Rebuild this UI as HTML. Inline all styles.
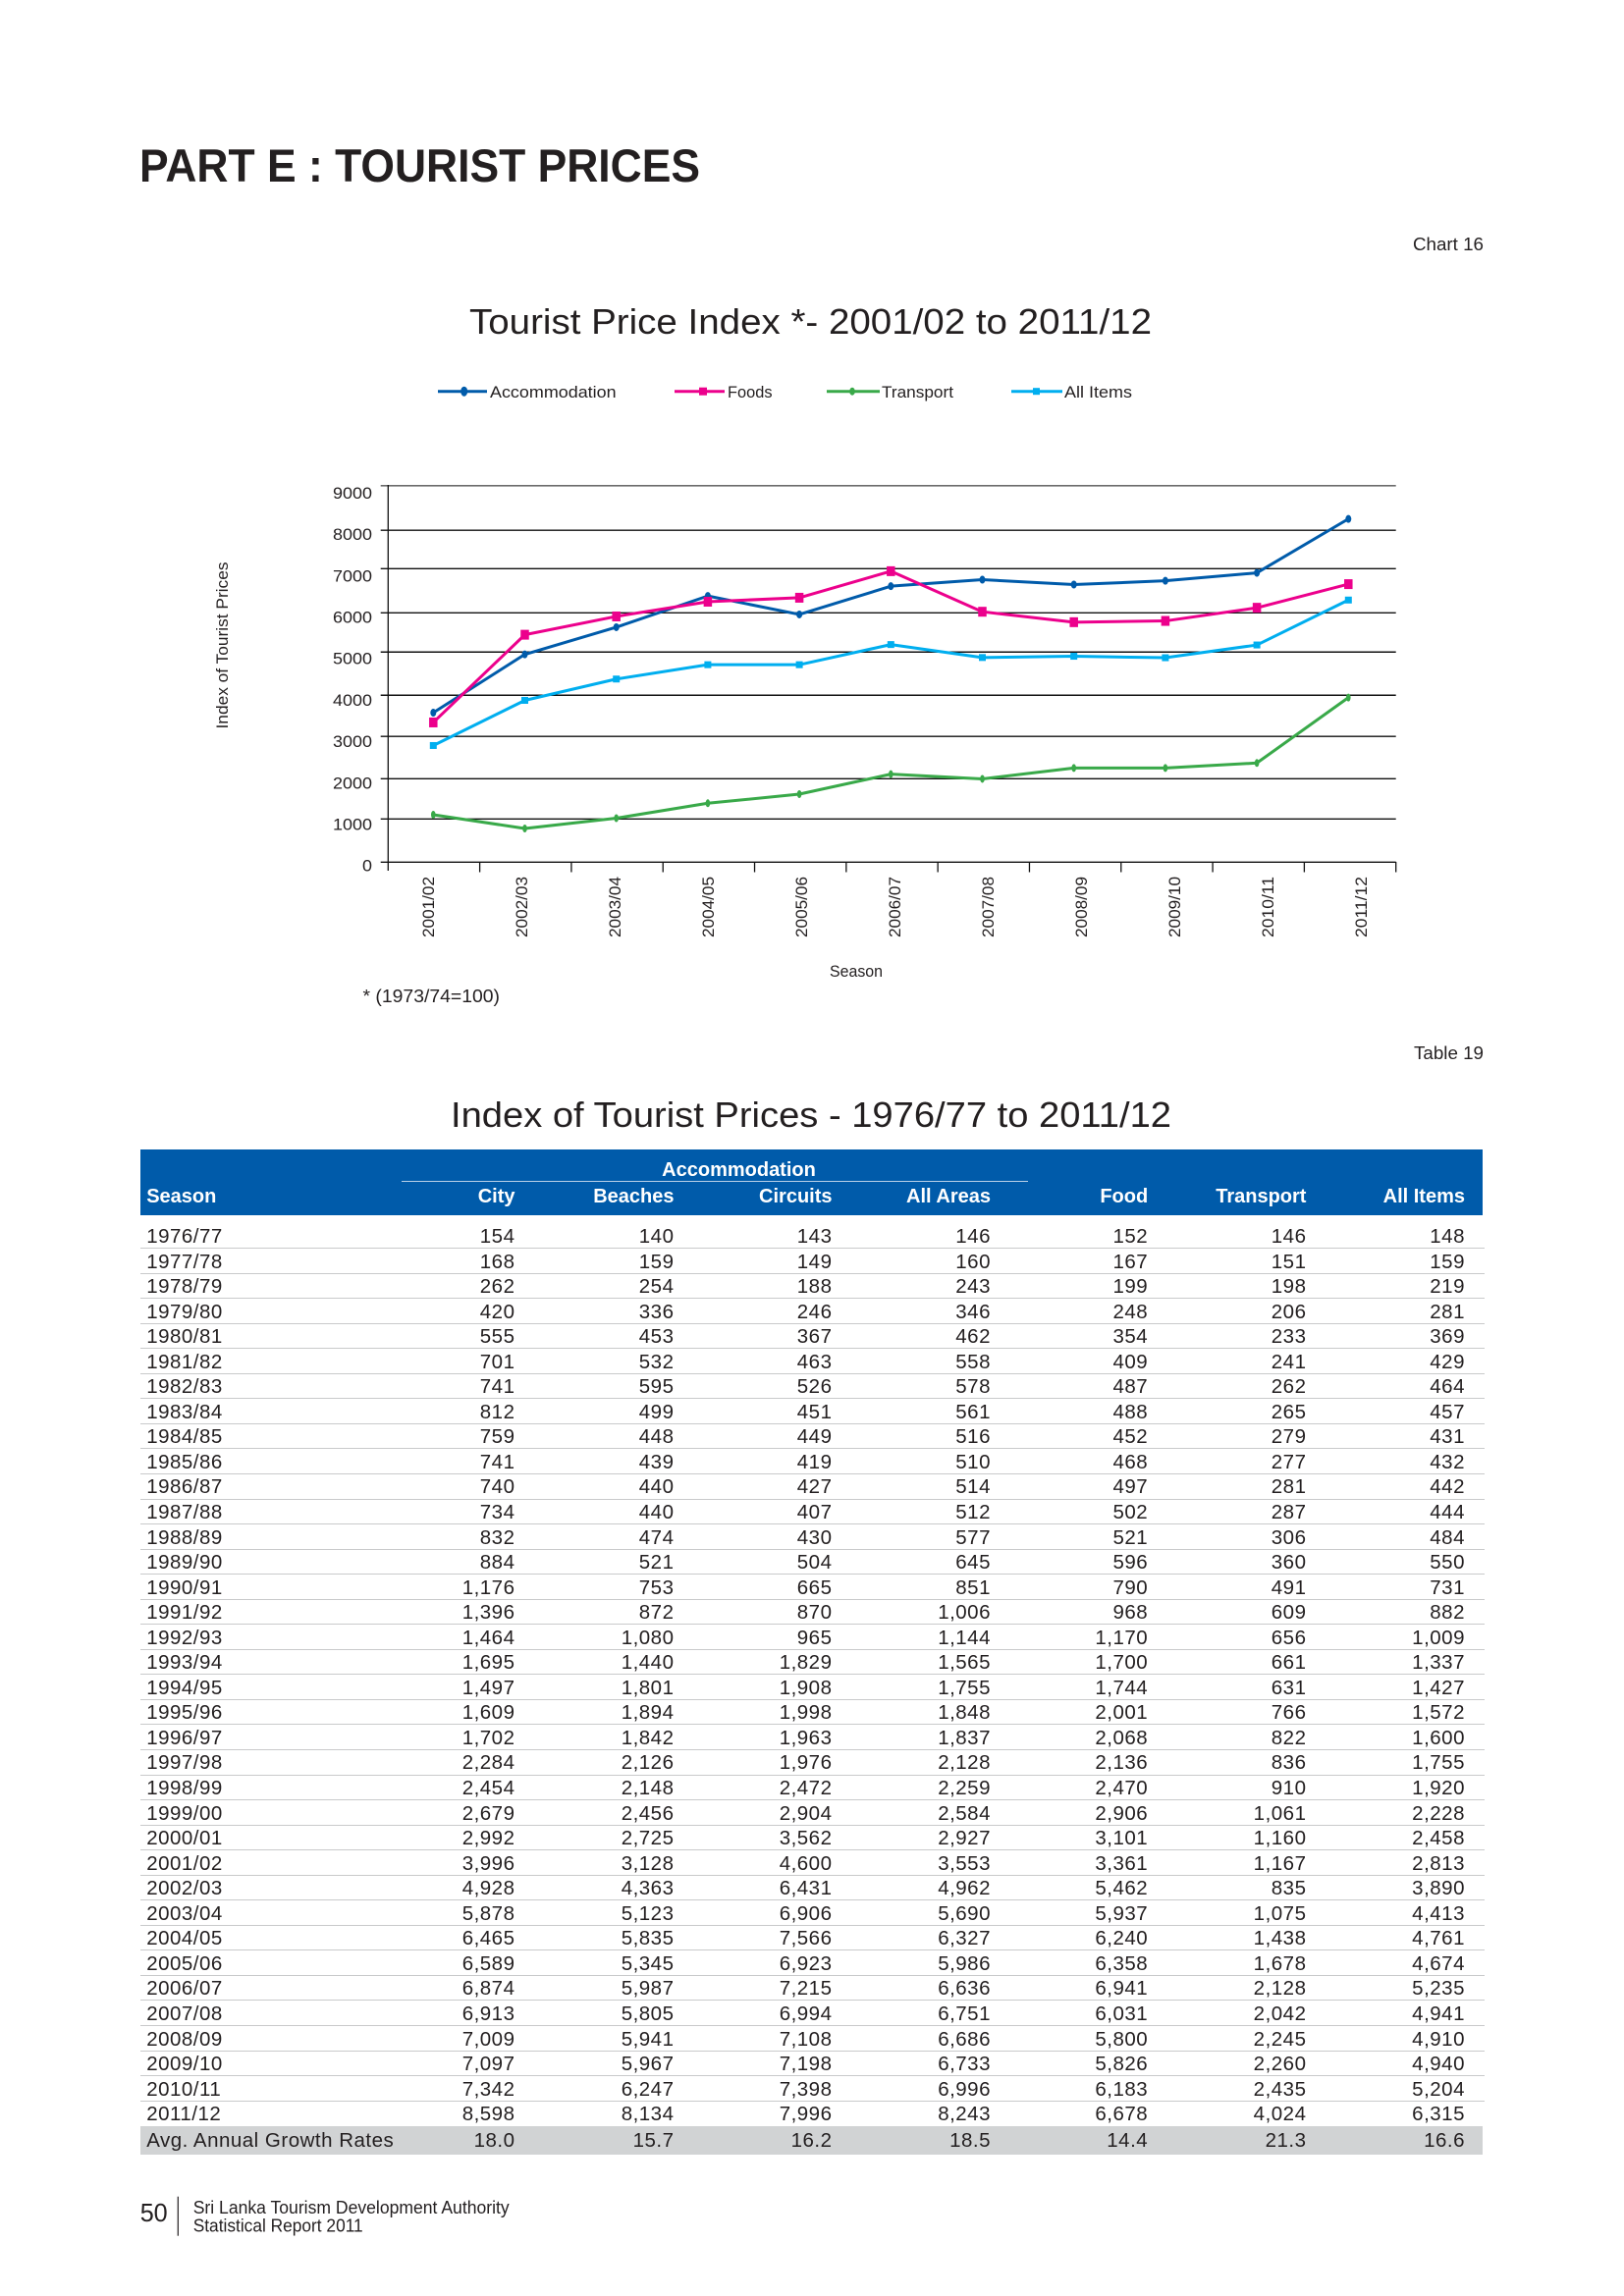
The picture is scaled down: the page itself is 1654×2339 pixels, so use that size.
<!DOCTYPE html>
<html lang="en">
<head>
<meta charset="utf-8">
<title>Part E: Tourist Prices</title>
<style>
html,body{margin:0;padding:0;background:#fff}
#page{position:relative;width:1654px;height:2339px;overflow:hidden;background:#fff;color:#231f20;font-family:"Liberation Sans",sans-serif}
#page-svg{position:absolute;left:0;top:0}
#page-svg text{font-family:"Liberation Sans",sans-serif;fill:#231f20}
#table-header{position:absolute;left:143px;top:1171px;width:1367px;height:67px;background:#005baa}
#acc-group{position:absolute;left:673px;top:1180px;width:159px;height:24px;line-height:24px;color:#fff;font-weight:bold;font-size:20px;white-space:nowrap;text-align:center}
#acc-rule{position:absolute;left:409px;top:1203px;width:638px;height:1px;background:#b9d0e8}
.r{position:absolute;left:143px;width:1369px;display:grid;grid-template-columns:257px 124.5px 162px 161px 161.5px 160.2px 161.3px 161.5px 20px;box-sizing:border-box;white-space:nowrap}
.r span{text-align:right}
.r span:first-child{text-align:left;padding-left:6.2px}
#head-row{top:1207px;height:24px;line-height:24px;color:#fff;font-weight:bold;font-size:20px;width:1367px}
#rows{position:absolute;left:0;top:1246.5px;width:1654px}
#rows .r{position:relative;height:25.55px;line-height:24px;padding-top:1.5px;border-bottom:1.5px solid #c9cacb;font-size:20.5px;letter-spacing:.5px}
#rows .r:last-child{border-bottom:0}
#avg-row{position:absolute;top:2166px;height:29px;width:1367px;line-height:29px;background:#d1d3d4;font-size:20.5px;letter-spacing:.5px}
</style>
</head>
<body>
<div id="page">
<svg id="page-svg" width="1654" height="1160" viewBox="0 0 1654 1160">
  <text x="142" y="185" font-size="47" font-weight="bold" style="font-weight:bold" textLength="571" lengthAdjust="spacingAndGlyphs">PART E : TOURIST PRICES</text>
  <text x="1439" y="255" font-size="18" textLength="72" lengthAdjust="spacingAndGlyphs">Chart 16</text>
  <text x="478" y="340" font-size="36" textLength="695" lengthAdjust="spacingAndGlyphs">Tourist Price Index *- 2001/02 to 2011/12</text>

  <g>
    <g>
      <line x1="446" y1="398.7" x2="496" y2="398.7" stroke="#005baa" stroke-width="3"/>
      <ellipse cx="472.7" cy="398.7" rx="3.5" ry="5" fill="#005baa"/>
      <text x="499" y="405" font-size="17" textLength="128.6" lengthAdjust="spacingAndGlyphs">Accommodation</text>
    </g>
    <g>
      <line x1="687" y1="398.7" x2="738" y2="398.7" stroke="#ec008c" stroke-width="3"/>
      <rect x="712" y="394.7" width="8" height="8" fill="#ec008c"/>
      <text x="741" y="405" font-size="17" textLength="45.5" lengthAdjust="spacingAndGlyphs">Foods</text>
    </g>
    <g>
      <line x1="842" y1="398.7" x2="896" y2="398.7" stroke="#39a949" stroke-width="3"/>
      <ellipse cx="868" cy="398.7" rx="2.8" ry="4" fill="#39a949"/>
      <text x="898" y="405" font-size="17" textLength="73" lengthAdjust="spacingAndGlyphs">Transport</text>
    </g>
    <g>
      <line x1="1030" y1="398.7" x2="1082" y2="398.7" stroke="#00aeef" stroke-width="3"/>
      <rect x="1052" y="395.2" width="7" height="7" fill="#00aeef"/>
      <text x="1084" y="405" font-size="17" textLength="69" lengthAdjust="spacingAndGlyphs">All Items</text>
    </g>
  </g>

  <g id="plot"></g>

  <text transform="translate(232 742.5) rotate(-90)" font-size="17" textLength="170" lengthAdjust="spacingAndGlyphs">Index of Tourist Prices</text>
  <text x="845" y="995" font-size="17" textLength="54" lengthAdjust="spacingAndGlyphs">Season</text>
  <text x="369.5" y="1021" font-size="18" textLength="139.5" lengthAdjust="spacingAndGlyphs">* (1973/74=100)</text>
  <text x="1440" y="1079" font-size="18" textLength="71" lengthAdjust="spacingAndGlyphs">Table 19</text>
  <text x="459" y="1148" font-size="36" textLength="734" lengthAdjust="spacingAndGlyphs">Index of Tourist Prices - 1976/77 to 2011/12</text>
</svg>

<div id="table-header"></div>
<div id="acc-group">Accommodation</div>
<div id="acc-rule"></div>
<div id="head-row" class="r"><span>Season</span><span>City</span><span>Beaches</span><span>Circuits</span><span>All Areas</span><span>Food</span><span>Transport</span><span>All Items</span></div>

<div id="rows">
<div class="r"><span>1976/77</span><span>154</span><span>140</span><span>143</span><span>146</span><span>152</span><span>146</span><span>148</span></div>
<div class="r"><span>1977/78</span><span>168</span><span>159</span><span>149</span><span>160</span><span>167</span><span>151</span><span>159</span></div>
<div class="r"><span>1978/79</span><span>262</span><span>254</span><span>188</span><span>243</span><span>199</span><span>198</span><span>219</span></div>
<div class="r"><span>1979/80</span><span>420</span><span>336</span><span>246</span><span>346</span><span>248</span><span>206</span><span>281</span></div>
<div class="r"><span>1980/81</span><span>555</span><span>453</span><span>367</span><span>462</span><span>354</span><span>233</span><span>369</span></div>
<div class="r"><span>1981/82</span><span>701</span><span>532</span><span>463</span><span>558</span><span>409</span><span>241</span><span>429</span></div>
<div class="r"><span>1982/83</span><span>741</span><span>595</span><span>526</span><span>578</span><span>487</span><span>262</span><span>464</span></div>
<div class="r"><span>1983/84</span><span>812</span><span>499</span><span>451</span><span>561</span><span>488</span><span>265</span><span>457</span></div>
<div class="r"><span>1984/85</span><span>759</span><span>448</span><span>449</span><span>516</span><span>452</span><span>279</span><span>431</span></div>
<div class="r"><span>1985/86</span><span>741</span><span>439</span><span>419</span><span>510</span><span>468</span><span>277</span><span>432</span></div>
<div class="r"><span>1986/87</span><span>740</span><span>440</span><span>427</span><span>514</span><span>497</span><span>281</span><span>442</span></div>
<div class="r"><span>1987/88</span><span>734</span><span>440</span><span>407</span><span>512</span><span>502</span><span>287</span><span>444</span></div>
<div class="r"><span>1988/89</span><span>832</span><span>474</span><span>430</span><span>577</span><span>521</span><span>306</span><span>484</span></div>
<div class="r"><span>1989/90</span><span>884</span><span>521</span><span>504</span><span>645</span><span>596</span><span>360</span><span>550</span></div>
<div class="r"><span>1990/91</span><span>1,176</span><span>753</span><span>665</span><span>851</span><span>790</span><span>491</span><span>731</span></div>
<div class="r"><span>1991/92</span><span>1,396</span><span>872</span><span>870</span><span>1,006</span><span>968</span><span>609</span><span>882</span></div>
<div class="r"><span>1992/93</span><span>1,464</span><span>1,080</span><span>965</span><span>1,144</span><span>1,170</span><span>656</span><span>1,009</span></div>
<div class="r"><span>1993/94</span><span>1,695</span><span>1,440</span><span>1,829</span><span>1,565</span><span>1,700</span><span>661</span><span>1,337</span></div>
<div class="r"><span>1994/95</span><span>1,497</span><span>1,801</span><span>1,908</span><span>1,755</span><span>1,744</span><span>631</span><span>1,427</span></div>
<div class="r"><span>1995/96</span><span>1,609</span><span>1,894</span><span>1,998</span><span>1,848</span><span>2,001</span><span>766</span><span>1,572</span></div>
<div class="r"><span>1996/97</span><span>1,702</span><span>1,842</span><span>1,963</span><span>1,837</span><span>2,068</span><span>822</span><span>1,600</span></div>
<div class="r"><span>1997/98</span><span>2,284</span><span>2,126</span><span>1,976</span><span>2,128</span><span>2,136</span><span>836</span><span>1,755</span></div>
<div class="r"><span>1998/99</span><span>2,454</span><span>2,148</span><span>2,472</span><span>2,259</span><span>2,470</span><span>910</span><span>1,920</span></div>
<div class="r"><span>1999/00</span><span>2,679</span><span>2,456</span><span>2,904</span><span>2,584</span><span>2,906</span><span>1,061</span><span>2,228</span></div>
<div class="r"><span>2000/01</span><span>2,992</span><span>2,725</span><span>3,562</span><span>2,927</span><span>3,101</span><span>1,160</span><span>2,458</span></div>
<div class="r"><span>2001/02</span><span>3,996</span><span>3,128</span><span>4,600</span><span>3,553</span><span>3,361</span><span>1,167</span><span>2,813</span></div>
<div class="r"><span>2002/03</span><span>4,928</span><span>4,363</span><span>6,431</span><span>4,962</span><span>5,462</span><span>835</span><span>3,890</span></div>
<div class="r"><span>2003/04</span><span>5,878</span><span>5,123</span><span>6,906</span><span>5,690</span><span>5,937</span><span>1,075</span><span>4,413</span></div>
<div class="r"><span>2004/05</span><span>6,465</span><span>5,835</span><span>7,566</span><span>6,327</span><span>6,240</span><span>1,438</span><span>4,761</span></div>
<div class="r"><span>2005/06</span><span>6,589</span><span>5,345</span><span>6,923</span><span>5,986</span><span>6,358</span><span>1,678</span><span>4,674</span></div>
<div class="r"><span>2006/07</span><span>6,874</span><span>5,987</span><span>7,215</span><span>6,636</span><span>6,941</span><span>2,128</span><span>5,235</span></div>
<div class="r"><span>2007/08</span><span>6,913</span><span>5,805</span><span>6,994</span><span>6,751</span><span>6,031</span><span>2,042</span><span>4,941</span></div>
<div class="r"><span>2008/09</span><span>7,009</span><span>5,941</span><span>7,108</span><span>6,686</span><span>5,800</span><span>2,245</span><span>4,910</span></div>
<div class="r"><span>2009/10</span><span>7,097</span><span>5,967</span><span>7,198</span><span>6,733</span><span>5,826</span><span>2,260</span><span>4,940</span></div>
<div class="r"><span>2010/11</span><span>7,342</span><span>6,247</span><span>7,398</span><span>6,996</span><span>6,183</span><span>2,435</span><span>5,204</span></div>
<div class="r"><span>2011/12</span><span>8,598</span><span>8,134</span><span>7,996</span><span>8,243</span><span>6,678</span><span>4,024</span><span>6,315</span></div>
</div>
<div id="avg-row" class="r"><span>Avg. Annual Growth Rates</span><span>18.0</span><span>15.7</span><span>16.2</span><span>18.5</span><span>14.4</span><span>21.3</span><span>16.6</span></div>

<svg style="position:absolute;left:0;top:2230px" width="600" height="60" viewBox="0 2230 600 60">
  <text x="142.7" y="2263" font-size="26" textLength="28" lengthAdjust="spacingAndGlyphs" fill="#231f20" style="font-family:'Liberation Sans',sans-serif">50</text>
  <line x1="181.3" y1="2237.7" x2="181.3" y2="2277.7" stroke="#231f20" stroke-width="1.2"/>
  <text x="196.7" y="2255" font-size="18" textLength="322" lengthAdjust="spacingAndGlyphs" fill="#231f20" style="font-family:'Liberation Sans',sans-serif">Sri Lanka Tourism Development Authority</text>
  <text x="196.7" y="2273.3" font-size="18" textLength="173" lengthAdjust="spacingAndGlyphs" fill="#231f20" style="font-family:'Liberation Sans',sans-serif">Statistical Report 2011</text>
</svg>
</div>

<script>
const seasons = ["2001/02","2002/03","2003/04","2004/05","2005/06","2006/07","2007/08","2008/09","2009/10","2010/11","2011/12"];
const yTicks = [0,1000,2000,3000,4000,5000,6000,7000,8000,9000];
const yTickLabels = ["0","1000","2000","3000","4000","5000","6000","7000","8000","9000"];
const accommodation = [3575,4970,5620,6367,5925,6601,6757,6640,6730,6920,8210];
const foods = [3342,5440,5878,6230,6325,6960,5990,5740,5770,6085,6650];
const transport = [1134,805,1052,1409,1627,2105,1992,2252,2252,2372,3937];
const allItems = [2790,3870,4380,4723,4723,5205,4895,4925,4890,5195,6270];

const SVG_NS = "http://www.w3.org/2000/svg";
const plot = document.getElementById("plot");

function xScale(i){ return 441.3 + i * 93.2; }
function yScale(v){ return 878.3 - v * (383.3 / 9000); }
function xBandEdge(i){ return 395.3 + i * (1026.4 / seasons.length); }

function make(tag, attrs, parent){
  const el = document.createElementNS(SVG_NS, tag);
  Object.keys(attrs).forEach(function(k){ el.setAttribute(k, attrs[k]); });
  parent.appendChild(el);
  return el;
}

// The printed rules sit slightly off an even spacing; these are per-rule drawing nudges.
const ruleNudge = [0,-1.4,0.2,-0.3,0.3,-1.1,1.5,-0.9,2.6,-0.1];

const gridGroup = make("g", {}, plot);


yTicks.forEach(function(t, i){
  const y = yScale(t) + ruleNudge[i];
  const rule = make("line", {x1: 387.7, x2: 1421.7, y1: y, y2: y, stroke: "#111", "stroke-width": (i === yTicks.length - 1 ? 1 : 1.4)}, gridGroup);
  
  
  const label = make("text", {x: 379, y: 881.7 - t * 0.0422 + 6, "font-size": 17, "text-anchor": "end", textLength: 10 * yTickLabels[i].length, lengthAdjust: "spacingAndGlyphs"}, plot);
  
  
  label.textContent = yTickLabels[i];
});

const yAxis = make("line", {x1: 395.3, x2: 395.3, y1: 494, y2: 887, stroke: "#111", "stroke-width": 1.3}, plot);



seasons.forEach(function(s, i){
  const edge = xBandEdge(i + 1);
  const tick = make("line", {x1: edge, x2: edge, y1: 878, y2: 888.5, stroke: "#111", "stroke-width": 1.3}, plot);
  
  
  const lx = 442 + i * 95;
  const label = make("text", {transform: "translate(" + lx + " 955) rotate(-90)", "font-size": 17, textLength: 62, lengthAdjust: "spacingAndGlyphs"}, plot);
  
  
  label.textContent = s;
});

function drawSeries(name, values, color, width, marker){
  const g = make("g", {}, plot);
  
  
  const pts = values.map(function(v, i){ return xScale(i) + "," + yScale(v); }).join(" ");
  const line = make("polyline", {points: pts, fill: "none", stroke: color, "stroke-width": width, "stroke-linejoin": "round"}, g);
  
  
  values.forEach(function(v, i){
    const cx = xScale(i), cy = yScale(v);
    let m;
    if (marker.shape === "rect") {
      m = make("rect", {x: cx - marker.w / 2, y: cy - marker.h / 2, width: marker.w, height: marker.h, fill: color}, g);
    } else {
      m = make("ellipse", {cx: cx, cy: cy, rx: marker.w / 2, ry: marker.h / 2, fill: color}, g);
    }
    
    
  });
}

drawSeries("accommodation", accommodation, "#005baa", 3, {shape: "ellipse", w: 6, h: 8});
drawSeries("foods", foods, "#ec008c", 3, {shape: "rect", w: 8.5, h: 10});
drawSeries("transport", transport, "#39a949", 3, {shape: "ellipse", w: 4.6, h: 8});
drawSeries("all-items", allItems, "#00aeef", 3, {shape: "rect", w: 7, h: 7});
</script>
</body>
</html>
